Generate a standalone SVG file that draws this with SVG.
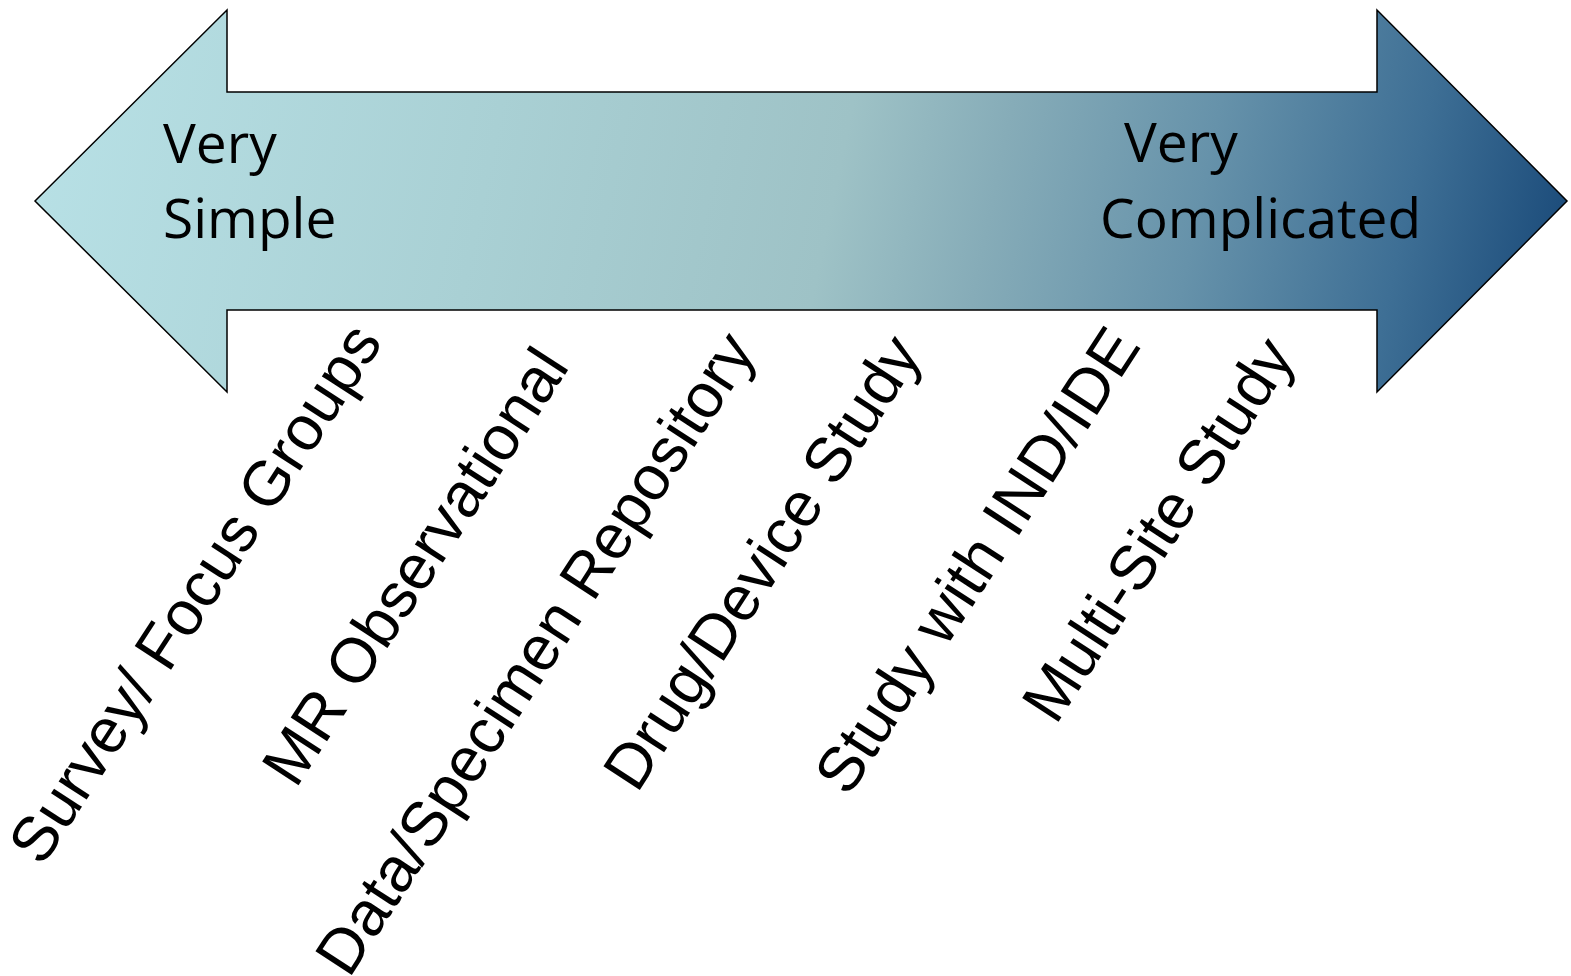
<svg xmlns="http://www.w3.org/2000/svg" width="1571" height="976" viewBox="0 0 1571 976">
<defs>
<linearGradient id="g" gradientUnits="userSpaceOnUse" x1="35" y1="40" x2="1567" y2="360">
<stop offset="0" stop-color="#b8e1e6"/>
<stop offset="0.3" stop-color="#a9d0d4"/>
<stop offset="0.52" stop-color="#9ec2c6"/>
<stop offset="0.62" stop-color="#86acb8"/>
<stop offset="0.75" stop-color="#6692aa"/>
<stop offset="0.88" stop-color="#3e6f95"/>
<stop offset="1" stop-color="#164676"/>
</linearGradient>
<style>
.big{font-family:"Open Sans","Liberation Sans",sans-serif;font-size:55px;fill:#000}
.lab{font-family:"Liberation Sans",Arial,sans-serif;font-size:63px;fill:#000;text-anchor:middle}
</style>
</defs>
<g id="arrow">
<path d="M35,201 L227,10 L227,92 L1377,92 L1377,10 L1567,201 L1377,392 L1377,310 L227,310 L227,392 Z" fill="url(#g)" stroke="#000" stroke-width="1.5"/>
<text class="big" x="163" y="163">Very</text>
<text class="big" x="163" y="238">Simple</text>
<text class="big" x="1124" y="162">Very</text>
<text class="big" x="1100" y="238">Complicated</text>
</g>
<g id="labels">
<g id="l1"><text class="lab" transform="translate(213,605) rotate(-57)">Survey/ Focus Groups</text></g>
<g id="l2"><text class="lab" transform="translate(433,578) rotate(-57)">MR Observational</text></g>
<g id="l3"><text class="lab" transform="translate(553,665) rotate(-57)">Data/Specimen Repository</text></g>
<g id="l4"><text class="lab" transform="translate(780,574) rotate(-57)">Drug/Device Study</text></g>
<g id="l5"><text class="lab" transform="translate(995,572) rotate(-57)">Study with IND/IDE</text></g>
<g id="l6"><text class="lab" transform="translate(1176,541) rotate(-57)">Multi-Site Study</text></g>
</g>
</svg>
